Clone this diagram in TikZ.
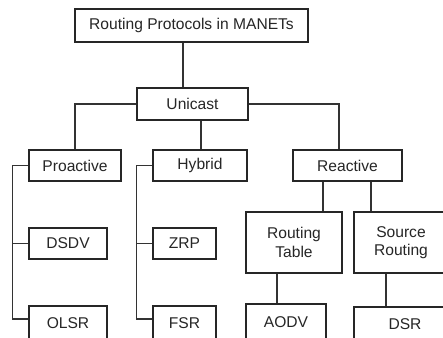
\documentclass[tikz,border=0pt]{standalone}
\usepackage{fontspec}
\setmainfont{Liberation Sans}
\begin{document}
\begin{tikzpicture}[x=0.75pt,y=-0.75pt,
  box/.style={draw=black!85, line width=0.9pt, inner sep=0pt, align=center,
    font=\fontsize{11.7}{14}\selectfont, text=black!85},
  sz/.style 2 args={minimum width=0.75pt*#1, minimum height=0.75pt*#2},
  conn/.style={draw=black!80, line width=0.9pt}]
\useasboundingbox[fill=white] (0,0) rectangle (443,337);
\clip (0,0) rectangle (443,337);
\node[box, sz={233}{33}] (top) at (191.5,25.5) {Routing Protocols in MANETs};
\node[box, sz={111}{32}] (uni) at (192.5,104) {Unicast};
\node[box, sz={92}{31}] (pro) at (75,165.5) {Proactive};
\node[box, sz={94}{31}] (hyb) at (200,165.5) {Hybrid};
\node[box, sz={109}{31}] (rea) at (347.5,165.5) {Reactive};
\node[box, sz={78}{31}] (dsdv) at (68,243.5) {DSDV};
\node[box, sz={78}{34}] (olsr) at (68,323) {OLSR};
\node[box, sz={63}{31}] (zrp) at (184.5,243.5) {ZRP};
\node[box, sz={63}{34}] (fsr) at (184.5,323) {FSR};
\node[box, sz={96}{61}] (rt) at (294,242.5) {Routing\\Table};
\node[box, sz={94}{61}] (sr) at (401,242.5) {Source\\Routing};
\node[box, sz={80}{36}] (aodv) at (286,322) {AODV};
\node[box, sz={102}{34}] (dsr) at (405,324) {DSR};

\draw[conn] (top.south -| 183,0) -- (uni.north -| 183,0);
\draw[conn] (uni.west) -| (pro.north);
\draw[conn] (uni.east) -| (rea.north -| 339,0);
\draw[conn] (uni.south -| 201,0) -- (hyb.north -| 201,0);
\draw[conn] (pro.west) -- ++(-16,0) |- (olsr.west |- 0,319);
\draw[conn] (dsdv.west) -- ++(-16,0);
\draw[conn] (hyb.west) -- ++(-16,0) |- (fsr.west |- 0,319);
\draw[conn] (zrp.west) -- ++(-16,0);
\draw[conn] (rea.south -| 323,0) -- (rt.north -| 323,0);
\draw[conn] (rea.south -| 371,0) -- (sr.north -| 371,0);
\draw[conn] (rt.south -| 277,0) -- (aodv.north -| 277,0);
\draw[conn] (sr.south -| 386,0) -- (dsr.north -| 386,0);
\end{tikzpicture}
\end{document}
